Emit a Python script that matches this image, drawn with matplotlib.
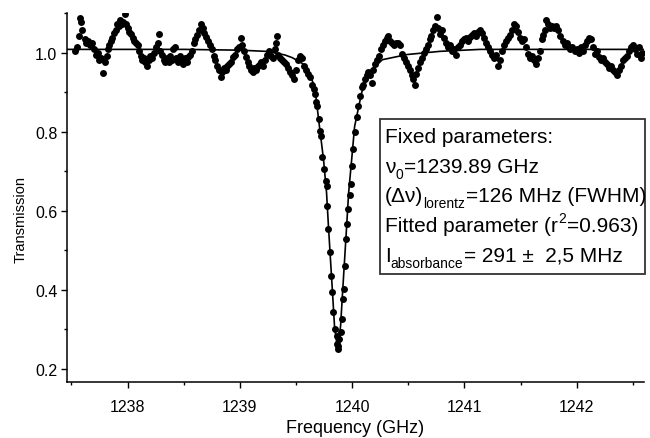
import matplotlib
matplotlib.use("Agg")
import matplotlib.pyplot as plt
from matplotlib.patches import Rectangle
from matplotlib.ticker import MultipleLocator

plt.rcParams['font.family'] = ['Liberation Sans', 'DejaVu Sans']

# measured points (frequency in GHz, transmission)
freq = [
    1237.527, 1237.545, 1237.563, 1237.572, 1237.589, 1237.598, 1237.616, 1237.625, 1237.643, 1237.661,
    1237.679, 1237.697, 1237.715, 1237.733, 1237.742, 1237.759, 1237.777, 1237.795, 1237.813, 1237.822,
    1237.831, 1237.849, 1237.858, 1237.876, 1237.894, 1237.903, 1237.920, 1237.929, 1237.947, 1237.956,
    1237.974, 1237.983, 1238.001, 1238.010,
    1238.027, 1238.045, 1238.054, 1238.072, 1238.089, 1238.098, 1238.116, 1238.125, 1238.143, 1238.152,
    1238.170, 1238.188, 1238.197, 1238.215, 1238.233, 1238.250, 1238.268, 1238.277, 1238.286, 1238.304,
    1238.322, 1238.331, 1238.349, 1238.367, 1238.376, 1238.394, 1238.403, 1238.420, 1238.429, 1238.447,
    1238.465, 1238.483, 1238.492, 1238.510, 1238.528, 1238.537, 1238.555, 1238.572, 1238.590, 1238.599,
    1238.617, 1238.635,
    1238.653, 1238.671, 1238.680, 1238.698, 1238.716, 1238.733, 1238.751, 1238.769, 1238.778, 1238.796,
    1238.814, 1238.832, 1238.841, 1238.859, 1238.877, 1238.886, 1238.903, 1238.921, 1238.939, 1238.957,
    1238.975, 1238.993, 1239.011, 1239.020, 1239.038, 1239.056, 1239.073, 1239.082, 1239.100, 1239.118,
    1239.127, 1239.145, 1239.163, 1239.181, 1239.190, 1239.208, 1239.225, 1239.243, 1239.261, 1239.279,
    1239.297, 1239.315, 1239.324, 1239.333, 1239.342, 1239.360, 1239.378, 1239.395, 1239.413, 1239.431,
    1239.449, 1239.467, 1239.485, 1239.503, 1239.521, 1239.539, 1239.557, 1239.575, 1239.592, 1239.610,
    1239.628, 1239.646, 1239.664,
    1239.673, 1239.682, 1239.691, 1239.709, 1239.718, 1239.727, 1239.736, 1239.745, 1239.763, 1239.772,
    1239.780, 1239.789, 1239.807, 1239.816, 1239.825, 1239.834, 1239.843, 1239.861, 1239.866, 1239.870,
    1239.875, 1239.879, 1239.897, 1239.906, 1239.915, 1239.924, 1239.933, 1239.942, 1239.951, 1239.960,
    1239.978, 1239.987, 1239.996, 1240.004, 1240.022, 1240.040, 1240.049, 1240.067, 1240.085, 1240.094,
    1240.112, 1240.130, 1240.139, 1240.157, 1240.174, 1240.183, 1240.201, 1240.219, 1240.237, 1240.255,
    1240.273, 1240.291, 1240.309, 1240.318, 1240.335, 1240.353, 1240.371, 1240.389, 1240.407, 1240.425,
    1240.443, 1240.461, 1240.479, 1240.496, 1240.514, 1240.532, 1240.541, 1240.559, 1240.568, 1240.586,
    1240.604, 1240.622, 1240.640, 1240.657, 1240.675, 1240.693, 1240.702, 1240.720, 1240.738, 1240.756,
    1240.765, 1240.783, 1240.801, 1240.818, 1240.836, 1240.854, 1240.872, 1240.890, 1240.908, 1240.926,
    1240.944, 1240.962, 1240.979, 1240.997, 1241.015, 1241.033, 1241.051, 1241.069, 1241.087, 1241.105,
    1241.123, 1241.140, 1241.158, 1241.176, 1241.194, 1241.212, 1241.230, 1241.248, 1241.266, 1241.284,
    1241.301, 1241.319, 1241.337, 1241.355, 1241.373, 1241.391, 1241.409, 1241.427, 1241.445, 1241.462,
    1241.480, 1241.498, 1241.516, 1241.534, 1241.552, 1241.570, 1241.588, 1241.606, 1241.623, 1241.641,
    1241.659, 1241.677, 1241.695, 1241.704, 1241.722, 1241.731, 1241.749, 1241.767, 1241.784, 1241.802,
    1241.820, 1241.838, 1241.856, 1241.874, 1241.892, 1241.910, 1241.928, 1241.945, 1241.963, 1241.981,
    1241.999, 1242.017, 1242.035, 1242.053, 1242.071, 1242.089, 1242.106, 1242.124, 1242.142, 1242.160,
    1242.178, 1242.196, 1242.214, 1242.232, 1242.250, 1242.267, 1242.285, 1242.303, 1242.321, 1242.339,
    1242.357, 1242.375, 1242.393, 1242.411, 1242.428, 1242.446, 1242.464, 1242.482, 1242.500, 1242.518,
    1242.536, 1242.554, 1242.572, 1242.581,
]
trans = [
    1.003, 1.013, 1.043, 1.088, 1.078, 1.058, 1.033, 1.023, 1.030, 1.020,
    1.023, 1.010, 0.995, 1.000, 0.982, 0.987, 0.949, 0.977, 0.992, 1.008,
    1.020, 1.028, 1.038, 1.050, 1.058, 1.071, 1.066, 1.083, 1.073, 1.078,
    1.098, 1.071, 1.063, 1.053,
    1.048, 1.038, 1.030, 1.025, 1.018, 1.003, 0.992, 0.982, 0.987, 0.977,
    0.967, 0.982, 0.992, 0.987, 1.000, 1.013, 1.023, 1.048, 1.003, 0.995,
    0.982, 0.975, 0.987, 0.977, 0.992, 0.982, 1.008, 1.015, 0.987, 0.977,
    0.992, 0.982, 0.972, 0.985, 0.977, 0.990, 0.995, 1.003, 1.023, 1.033,
    1.045, 1.058,
    1.073, 1.063, 1.050, 1.040, 1.030, 1.020, 1.008, 0.992, 0.982, 0.967,
    0.957, 0.939, 0.952, 0.962, 0.957, 0.967, 0.972, 0.977, 0.990, 0.995,
    1.008, 1.015, 1.038, 1.018, 1.003, 0.990, 0.977, 0.967, 0.957, 0.952,
    0.962, 0.955, 0.965, 0.972, 0.977, 0.967, 0.982, 0.995, 1.003, 0.992,
    0.987, 1.008, 1.025, 1.043, 0.995, 0.987, 0.982, 0.975, 0.970, 0.962,
    0.952, 0.944, 0.934, 0.957, 0.982, 0.992, 0.987, 0.967, 0.955, 0.947,
    0.937, 0.917, 0.907,
    0.894, 0.876, 0.864, 0.831, 0.801, 0.788, 0.737, 0.705, 0.674, 0.662,
    0.611, 0.553, 0.495, 0.434, 0.394, 0.343, 0.301, 0.283, 0.263, 0.250,
    0.258, 0.275, 0.293, 0.326, 0.376, 0.402, 0.460, 0.528, 0.566, 0.604,
    0.641, 0.667, 0.712, 0.755, 0.798, 0.836, 0.864, 0.889, 0.912, 0.919,
    0.932, 0.942, 0.952, 0.944, 0.924, 0.957, 0.972, 0.982, 0.992, 1.008,
    1.018, 1.028, 1.038, 1.043, 1.028, 1.023, 1.018, 1.025, 1.023, 1.018,
    0.997, 0.987, 0.975, 0.965, 0.955, 0.942, 0.932, 0.919, 0.947, 0.962,
    0.977, 0.987, 1.000, 1.008, 1.020, 1.033, 1.043, 1.058, 1.068, 1.091,
    1.063, 1.048, 1.056, 1.038, 1.023, 1.013, 1.018, 1.003, 1.008, 0.995,
    1.013, 1.020, 1.028, 1.033, 1.038, 1.030, 1.040, 1.045, 1.050, 1.043,
    1.053, 1.058, 1.050, 1.038, 1.025, 1.015, 1.003, 0.995, 0.987, 0.995,
    0.967, 0.982, 1.003, 1.018, 1.028, 1.038, 1.045, 1.058, 1.073, 1.066,
    1.053, 1.038, 1.028, 1.033, 1.013, 0.997, 0.987, 0.992, 0.982, 0.970,
    0.987, 1.003, 1.033, 1.045, 1.058, 1.083, 1.071, 1.063, 1.068, 1.061,
    1.066, 1.058, 1.043, 1.028, 1.018, 1.023, 1.015, 1.008, 1.013, 1.003,
    1.008, 1.000, 1.013, 1.003, 1.018, 1.028, 1.038, 1.033, 1.013, 0.997,
    1.003, 0.990, 0.982, 0.987, 0.977, 0.970, 0.962, 0.967, 0.957, 0.952,
    0.944, 0.957, 0.967, 0.980, 0.987, 0.992, 1.003, 1.013, 1.020, 1.008,
    0.997, 1.013, 0.987, 1.000,
]

# fitted curve
fit_freq = [1237.46, 1238.0, 1238.5, 1239.0, 1239.235, 1239.40, 1239.467, 1239.56, 1239.61,
            1239.65, 1239.673, 1239.709, 1239.745, 1239.772, 1239.789, 1239.807, 1239.825,
            1239.843, 1239.870, 1239.897, 1239.915, 1239.933, 1239.951, 1239.969, 1239.996,
            1240.022, 1240.085, 1240.14, 1240.19, 1240.27, 1240.49, 1240.78, 1241.14, 1242.0, 1242.6]
fit_trans = [1.008, 1.008, 1.008, 1.006, 1.003, 0.994, 0.987, 0.972, 0.955,
             0.925, 0.899, 0.813, 0.730, 0.646, 0.561, 0.477, 0.394,
             0.308, 0.250, 0.308, 0.394, 0.477, 0.561, 0.646, 0.730,
             0.813, 0.899, 0.940, 0.962, 0.982, 0.995, 1.003, 1.008, 1.008, 1.008]

x_major = [1238, 1239, 1240, 1241, 1242]
y_major = [0.2, 0.4, 0.6, 0.8, 1.0]

# annotation lines: list of (text, kind) pieces; kind: 'n' normal, 'sub', 'sup'
box_lines = [
    [('Fixed parameters:', 'n')],
    [('\u03bd', 'n'), ('0', 'sub'), ('=1239.89 GHz', 'n')],
    [('(\u0394\u03bd)', 'n'), ('lorentz', 'sub'), ('=126 MHz (FWHM)', 'n')],
    [('Fitted parameter (r', 'n'), ('2', 'sup'), ('=0.963)', 'n')],
    [('I', 'n'), ('absorbance', 'sub'), ('= 291 \u00b1  2,5 MHz', 'n')],
]

W, H = 650, 439
fig = plt.figure(figsize=(6.5, 4.39), dpi=100)
ax = fig.add_axes([67/W, 1 - 383/H, (644 - 67)/W, (383 - 14)/H])

ax.plot(fit_freq, fit_trans, color='black', lw=1.2, zorder=2)
ax.plot(freq, trans, 'o', color='black', markersize=5.0, markeredgewidth=0, zorder=3)

ax.set_xlim(1237.46, 1242.6)
ax.set_ylim(0.167, 1.1)
ax.set_xticks(x_major)
ax.set_yticks(y_major)
ax.set_yticklabels([f'{v:.1f}' for v in y_major])
ax.xaxis.set_minor_locator(MultipleLocator(0.5))
ax.yaxis.set_minor_locator(MultipleLocator(0.1))

for s in ['top', 'right']:
    ax.spines[s].set_visible(False)
for s in ['left', 'bottom']:
    ax.spines[s].set_linewidth(1.1)

ax.tick_params(which='major', direction='out', length=4, width=1.0, labelsize=11.5)
ax.tick_params(which='minor', direction='out', length=2.5, width=1.0)
ax.tick_params(axis='x', which='major', pad=8)
ax.tick_params(axis='y', which='major', pad=3)

ax.set_xlabel('Frequency (GHz)', fontsize=13)
ax.set_ylabel('Transmission', fontsize=10.5)
ax.xaxis.set_label_coords(0.499, -0.100)
ax.yaxis.set_label_coords(-0.068, 0.442)

# box in pixel coordinates of the figure
bx0, by0, bx1, by1 = 380, 120, 645, 275
rect = Rectangle((bx0 / W, 1 - by1 / H), (bx1 - bx0) / W, (by1 - by0) / H,
                 transform=fig.transFigure, fill=False, edgecolor='#333333',
                 linewidth=1.3, zorder=4)
fig.add_artist(rect)

main_size, small_size = 15, 10
baselines_px = [143, 173, 202, 232, 262]
shift_px = {'n': 0, 'sub': -6, 'sup': 9}
renderer = fig.canvas.get_renderer()
for pieces, yb in zip(box_lines, baselines_px):
    xpos = 385.0
    for txt, kind in pieces:
        size = main_size if kind == 'n' else small_size
        t = fig.text(xpos / W, 1 - (yb - shift_px[kind]) / H, txt, fontsize=size,
                     va='baseline', ha='left', zorder=5)
        bb = t.get_window_extent(renderer)
        xpos += bb.width + (1 if kind != 'n' else 0)

fig.savefig('out.png', dpi=100)
